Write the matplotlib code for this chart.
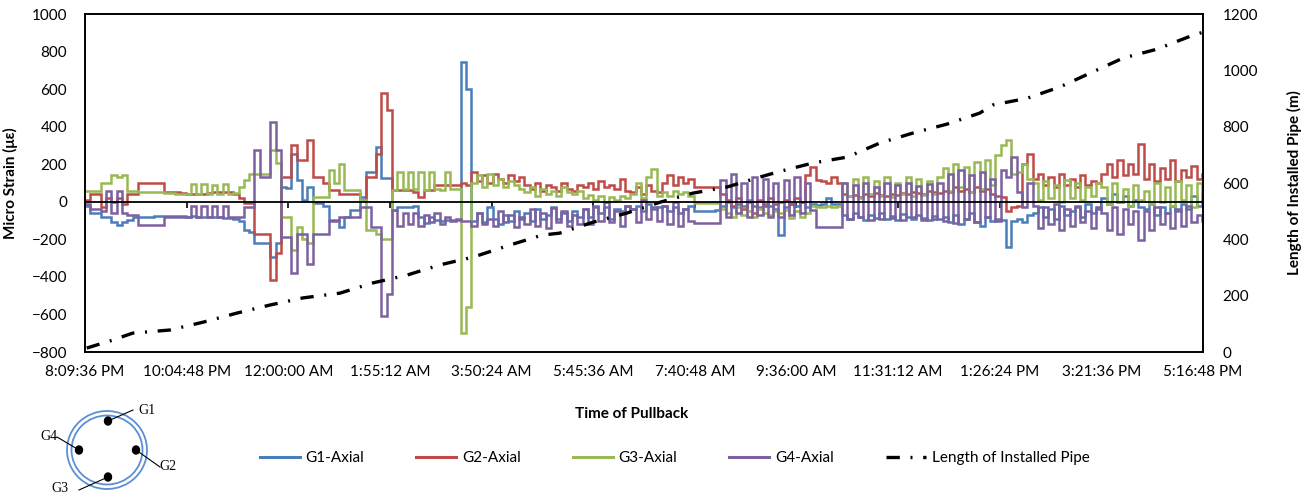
import numpy as np
import matplotlib
matplotlib.use("Agg")
import matplotlib.pyplot as plt
from matplotlib.patches import Ellipse
from matplotlib.lines import Line2D

plt.rcParams['font.family'] = ['Lato', 'DejaVu Sans']

# Gauge readings logged every 6 minutes from the start of pullback (8:09:36 PM)
sample_step_min = 6.0

g1_axial = [
    -20, -62, -62, -80, -80, -106, -124, -110, -95, -80,
    -80, -82, -80, -78, -75, -75, -75, -77, -75, -80,
    -78, -80, -80, -82, -80, -82, -84, -85, -90, -100,
    -150, -160, -222, -222, -222, -293, -222, 80, 71, 257,
    115, 9, 80, -9, -9, -20, -98, -98, -133, -80,
    -44, -44, 27, 160, 160, 293, 124, 124, -44, -27,
    -30, -27, -20, -80, -115, -80, -98, -100, -98, -95,
    -98, 745, 600, -100, -60, -110, -30, -90, -120, -70,
    -100, -50, -90, -60, -100, -40, -90, -70, -30, -90,
    -60, -100, -50, -80, -40, -80, -20, -60, -30, -90,
    -40, -50, -20, -40, -20, -50, -10, -40, -30, -20,
    -50, -30, -60, -40, -20, -50, -50, -50, -50, -44,
    -20, 0, -30, -10, -20, 10, -20, -30, -10, -20,
    -40, -178, -30, -10, -20, 0, -30, -10, -15, -10,
    20, -10, -10, -70, -90, -60, -80, -95, -70, -85,
    -60, -90, -75, -95, -65, -80, -90, -70, -85, -95,
    -75, -90, -80, -110, -70, -120, -90, -60, -110, -130,
    -80, -100, -90, -98, -240, -100, -90, -110, -70, -60,
    -30, -80, -40, -90, -20, -70, -50, -30, -80, -10,
    -60, -40, 20, -10, 40, 0, 30, -20, 10, -30,
    -40, -10, -70, -30, -60, -20, -50, -10, -40, 30, -20, 40,
]

g2_axial = [
    10, 40, 40, -30, 20, 0, 20, -10, 40, 40,
    100, 100, 100, 100, 100, 50, 50, 50, 45, 40,
    40, 40, 40, 45, 50, 50, 50, 50, 40, 18,
    -9, -9, -170, -170, -170, -417, -275, 133, 133, 300,
    220, 220, 330, 133, 133, 100, 62, 62, 44, 44,
    44, 44, 9, 133, 133, 257, 580, 490, 62, 62,
    62, 62, 50, 27, 62, 62, 89, 89, 89, 89,
    89, 100, 90, 160, 110, 140, 100, 150, 120, 100,
    140, 110, 130, 90, 70, 100, 60, 90, 80, 60,
    100, 70, 55, 90, 80, 100, 70, 110, 80, 90,
    70, 120, 60, 50, 80, 40, 90, 60, 50, 100,
    140, 90, 130, 100, 120, 80, 80, 80, 80, 80,
    40, 10, -20, 20, -40, 0, -60, 10, -20, 20,
    -10, 0, 10, -10, 20, 0, 140, 186, 115, 110,
    100, 133, 98, 40, 30, 35, 25, 40, 30, 45,
    35, 30, 40, 35, 45, 40, 50, 45, 40, 55,
    50, 45, 60, 50, 80, 60, 70, 50, 80, 60,
    70, 40, 30, 27, -50, -27, -20, 200, 257, 120,
    150, 90, 130, 80, 150, 90, 120, 80, 140, 90,
    110, 100, 150, 200, 130, 220, 140, 200, 150, 310,
    120, 200, 110, 180, 120, 220, 110, 170, 130, 190, 120, 150,
]

g3_axial = [
    60, 60, 60, 100, 100, 140, 130, 140, 60, 55,
    50, 50, 50, 50, 50, 45, 45, 40, 40, 40,
    95, 40, 95, 40, 90, 40, 95, 40, 45, 80,
    115, 150, 150, 150, 150, 275, 204, -80, -80, -257,
    -133, -200, -222, 27, 27, 27, 169, 100, 200, 62,
    62, 62, 9, -150, -150, -170, -200, -200, 62, 160,
    70, 160, 70, 160, 65, 160, 70, 65, 160, 70,
    70, -700, -560, 100, 140, 80, 150, 90, 120, 80,
    110, 90, 70, 50, 80, 30, 70, 40, 60, 30,
    80, 50, 40, 60, 20, 35, 10, 30, 0, 25,
    10, 30, 20, 40, 100, 20, 130, 177, 30, 50,
    30, 60, 40, 50, 30, -9, -9, -9, -9, -9,
    -40, -60, -80, -30, -70, -50, -80, -40, -60, -70,
    -50, -60, -44, -89, -50, -80, -60, -20, -27, -30,
    -20, -27, -25, 98, 30, 120, 20, 133, 40, 110,
    30, 130, 25, 100, 40, 133, 30, 120, 35, 110,
    40, 130, 180, 60, 200, 80, 186, 50, 210, 70,
    220, 90, 250, 300, 330, 150, 160, 200, 120, 100,
    10, 110, 20, 90, 0, 115, 20, 100, 10, 80,
    30, 100, 80, -10, 98, 0, 70, -20, 90, 10,
    60, -10, 100, 0, 80, -20, 110, 10, 90, -30, 100, 20,
]

g4_axial = [
    -10, -40, -40, -50, 60, -60, 60, -60, -70, -70,
    -125, -125, -125, -125, -125, -80, -80, -80, -80, -80,
    -20, -80, -20, -80, -20, -80, -20, -80, -80, -80,
    -30, -30, 275, 133, 133, 425, 275, -186, -190, -380,
    -170, -170, -330, -170, -170, -170, -100, -100, -80, -80,
    -80, -80, -27, -27, -133, -133, -610, -490, -45, -130,
    -60, -120, -60, -130, -70, -110, -60, -120, -80, -100,
    -90, -100, -100, -130, -60, -120, -90, -130, -50, -110,
    -70, -133, -80, -120, -40, -130, -60, -140, -35, -110,
    -50, -130, -70, -120, -40, -120, -30, -100, 0, -110,
    -50, -130, -20, -40, -110, 10, -90, -30, -100, -20,
    -120, 0, -130, -40, -100, -115, -115, -115, -115, -115,
    115, -80, 150, -60, 100, -80, 130, -70, 120, -80,
    100, -80, 115, -70, 130, -60, 100, -44, -133, -133,
    -133, -133, -133, 98, -90, 90, -80, 98, -98, 80,
    -90, 98, -85, 90, -95, 98, -80, 85, -98, 95,
    -90, 98, -100, 150, -115, 168, -90, 140, -110, 160,
    -80, 120, -100, 170, 130, 240, 50, -30, 100, -20,
    -140, -30, -120, -10, -150, -40, -130, -20, -110, -50,
    -140, -30, -60, -150, -30, -170, -40, -120, -50, -205,
    -50, -150, -30, -120, -60, -140, -40, -130, -20, -110, -70, -100,
]

# Installed pipe length survey (minutes since start, metres)
pipe_time_min = [2, 32, 54, 96, 134, 172, 210, 247, 289, 326, 365, 402, 440,
                 482, 518, 538, 576, 614, 652, 689, 728, 765, 785, 825, 864,
                 901, 938, 977, 1014, 1029, 1068, 1105, 1142, 1177, 1215,
                 1256, 1267]
pipe_length_m = [14, 43, 67, 78, 106, 138, 167, 192, 209, 245, 273, 309, 337,
                 380, 415, 422, 461, 493, 532, 564, 586, 621, 639, 671, 692,
                 742, 777, 809, 848, 877, 901, 941, 994, 1044, 1075,
                 1125, 1135]

tick_labels = ["8:09:36 PM", "10:04:48 PM", "12:00:00 AM", "1:55:12 AM",
               "3:50:24 AM", "5:45:36 AM", "7:40:48 AM", "9:36:00 AM",
               "11:31:12 AM", "1:26:24 PM", "3:21:36 PM", "5:16:48 PM"]
tick_step_min = 115.2

series_names = ["G1-Axial", "G2-Axial", "G3-Axial", "G4-Axial"]
series_colors = ["#4A7EBB", "#BE4B48", "#98B954", "#7D60A0"]

t_min = np.arange(len(g1_axial)) * sample_step_min
t_end = tick_step_min * (len(tick_labels) - 1)

fig = plt.figure(figsize=(13.05, 5.01), dpi=100)
ax = fig.add_axes([85 / 1305, 149 / 501, 1118 / 1305, 338 / 501])

for vals, name, col in zip([g1_axial, g2_axial, g3_axial, g4_axial],
                           series_names, series_colors):
    ax.plot(t_min, vals, drawstyle="steps-post", color=col, lw=1.8,
            label=name, solid_joinstyle="miter")

ax.axhline(0, color="black", lw=1.3, zorder=5)
ax.set_xlim(0, t_end)
ax.set_ylim(-800, 1000)
ax.set_yticks(np.arange(-800, 1001, 200))
ax.set_xticks(np.arange(len(tick_labels)) * tick_step_min)
ax.set_xticklabels(tick_labels)
ax.tick_params(axis="x", length=0, pad=9, labelsize=11)
ax.tick_params(axis="y", length=0, pad=13, labelsize=11)
for sp in ax.spines.values():
    sp.set_color("black")
    sp.set_linewidth(1.2)

# tick marks along the zero line
zero_frac = 800 / 1800
sec = ax.secondary_xaxis(zero_frac)
sec.set_xticks(np.arange(len(tick_labels)) * tick_step_min)
sec.tick_params(axis="x", length=4, width=1.2, direction="out",
                labelbottom=False, color="black")
sec.spines["bottom"].set_visible(False)

ax.set_ylabel("Micro Strain (με)", fontsize=11, fontweight="bold")
ax.yaxis.set_label_coords(-0.06, 0.5)
ax.set_xlabel("Time of Pullback", fontsize=11, fontweight="bold")
ax.xaxis.set_label_coords(0.489, -0.163)

ax2 = ax.twinx()
ax2.plot(pipe_time_min, pipe_length_m, color="black", lw=2.4,
         linestyle=(0, (4, 3.2, 0.6, 3.2)), label="Length of Installed Pipe")
ax2.set_ylim(0, 1200)
ax2.set_yticks(np.arange(0, 1201, 200))
ax2.tick_params(axis="y", length=0, pad=14, labelsize=11)
ax2.set_ylabel("Length of Installed Pipe (m)", fontsize=11, fontweight="bold")
ax2.yaxis.set_label_coords(1.075, 0.5)
for sp in ax2.spines.values():
    sp.set_color("black")
    sp.set_linewidth(1.2)

handles = [Line2D([], [], color=c, lw=2.2) for c in series_colors]
handles.append(Line2D([], [], color="black", lw=2.4,
                      linestyle=(0, (4, 3.2, 0.6, 3.2))))
fig.legend(handles, series_names + ["Length of Installed Pipe"],
           loc="center", bbox_to_anchor=(0.517, 0.086), ncol=5,
           frameon=False, handlelength=2.6, columnspacing=3.4,
           handletextpad=0.4, fontsize=11)

# pipe cross-section showing gauge positions
sk = fig.add_axes([20 / 1305, 0, 180 / 1305, 101 / 501])
sk.set_xlim(20, 200)
sk.set_ylim(501, 400)
sk.axis("off")
cx, cy = 107, 450
sk.add_patch(Ellipse((cx, cy), 80, 78, fill=False, ec="#5B8FD6", lw=1.3))
sk.add_patch(Ellipse((cx, cy), 71, 69, fill=False, ec="#5B8FD6", lw=1.3))
gauges = {"G1": ((108, 421), (133, 410), (147, 410)),
          "G4": ((79, 450), (57, 437), (49, 436)),
          "G2": ((136, 450), (160, 467), (168, 466)),
          "G3": ((108, 477), (79, 490), (60, 488))}
for name, (dot, end, lab) in gauges.items():
    sk.plot([dot[0], end[0]], [dot[1], end[1]], color="black", lw=0.8)
    sk.add_patch(Ellipse(dot, 7, 8, color="black"))
    sk.text(lab[0], lab[1], name, ha="center", va="center", fontsize=10,
            family="Liberation Serif")

fig.savefig("out.png", dpi=100)
